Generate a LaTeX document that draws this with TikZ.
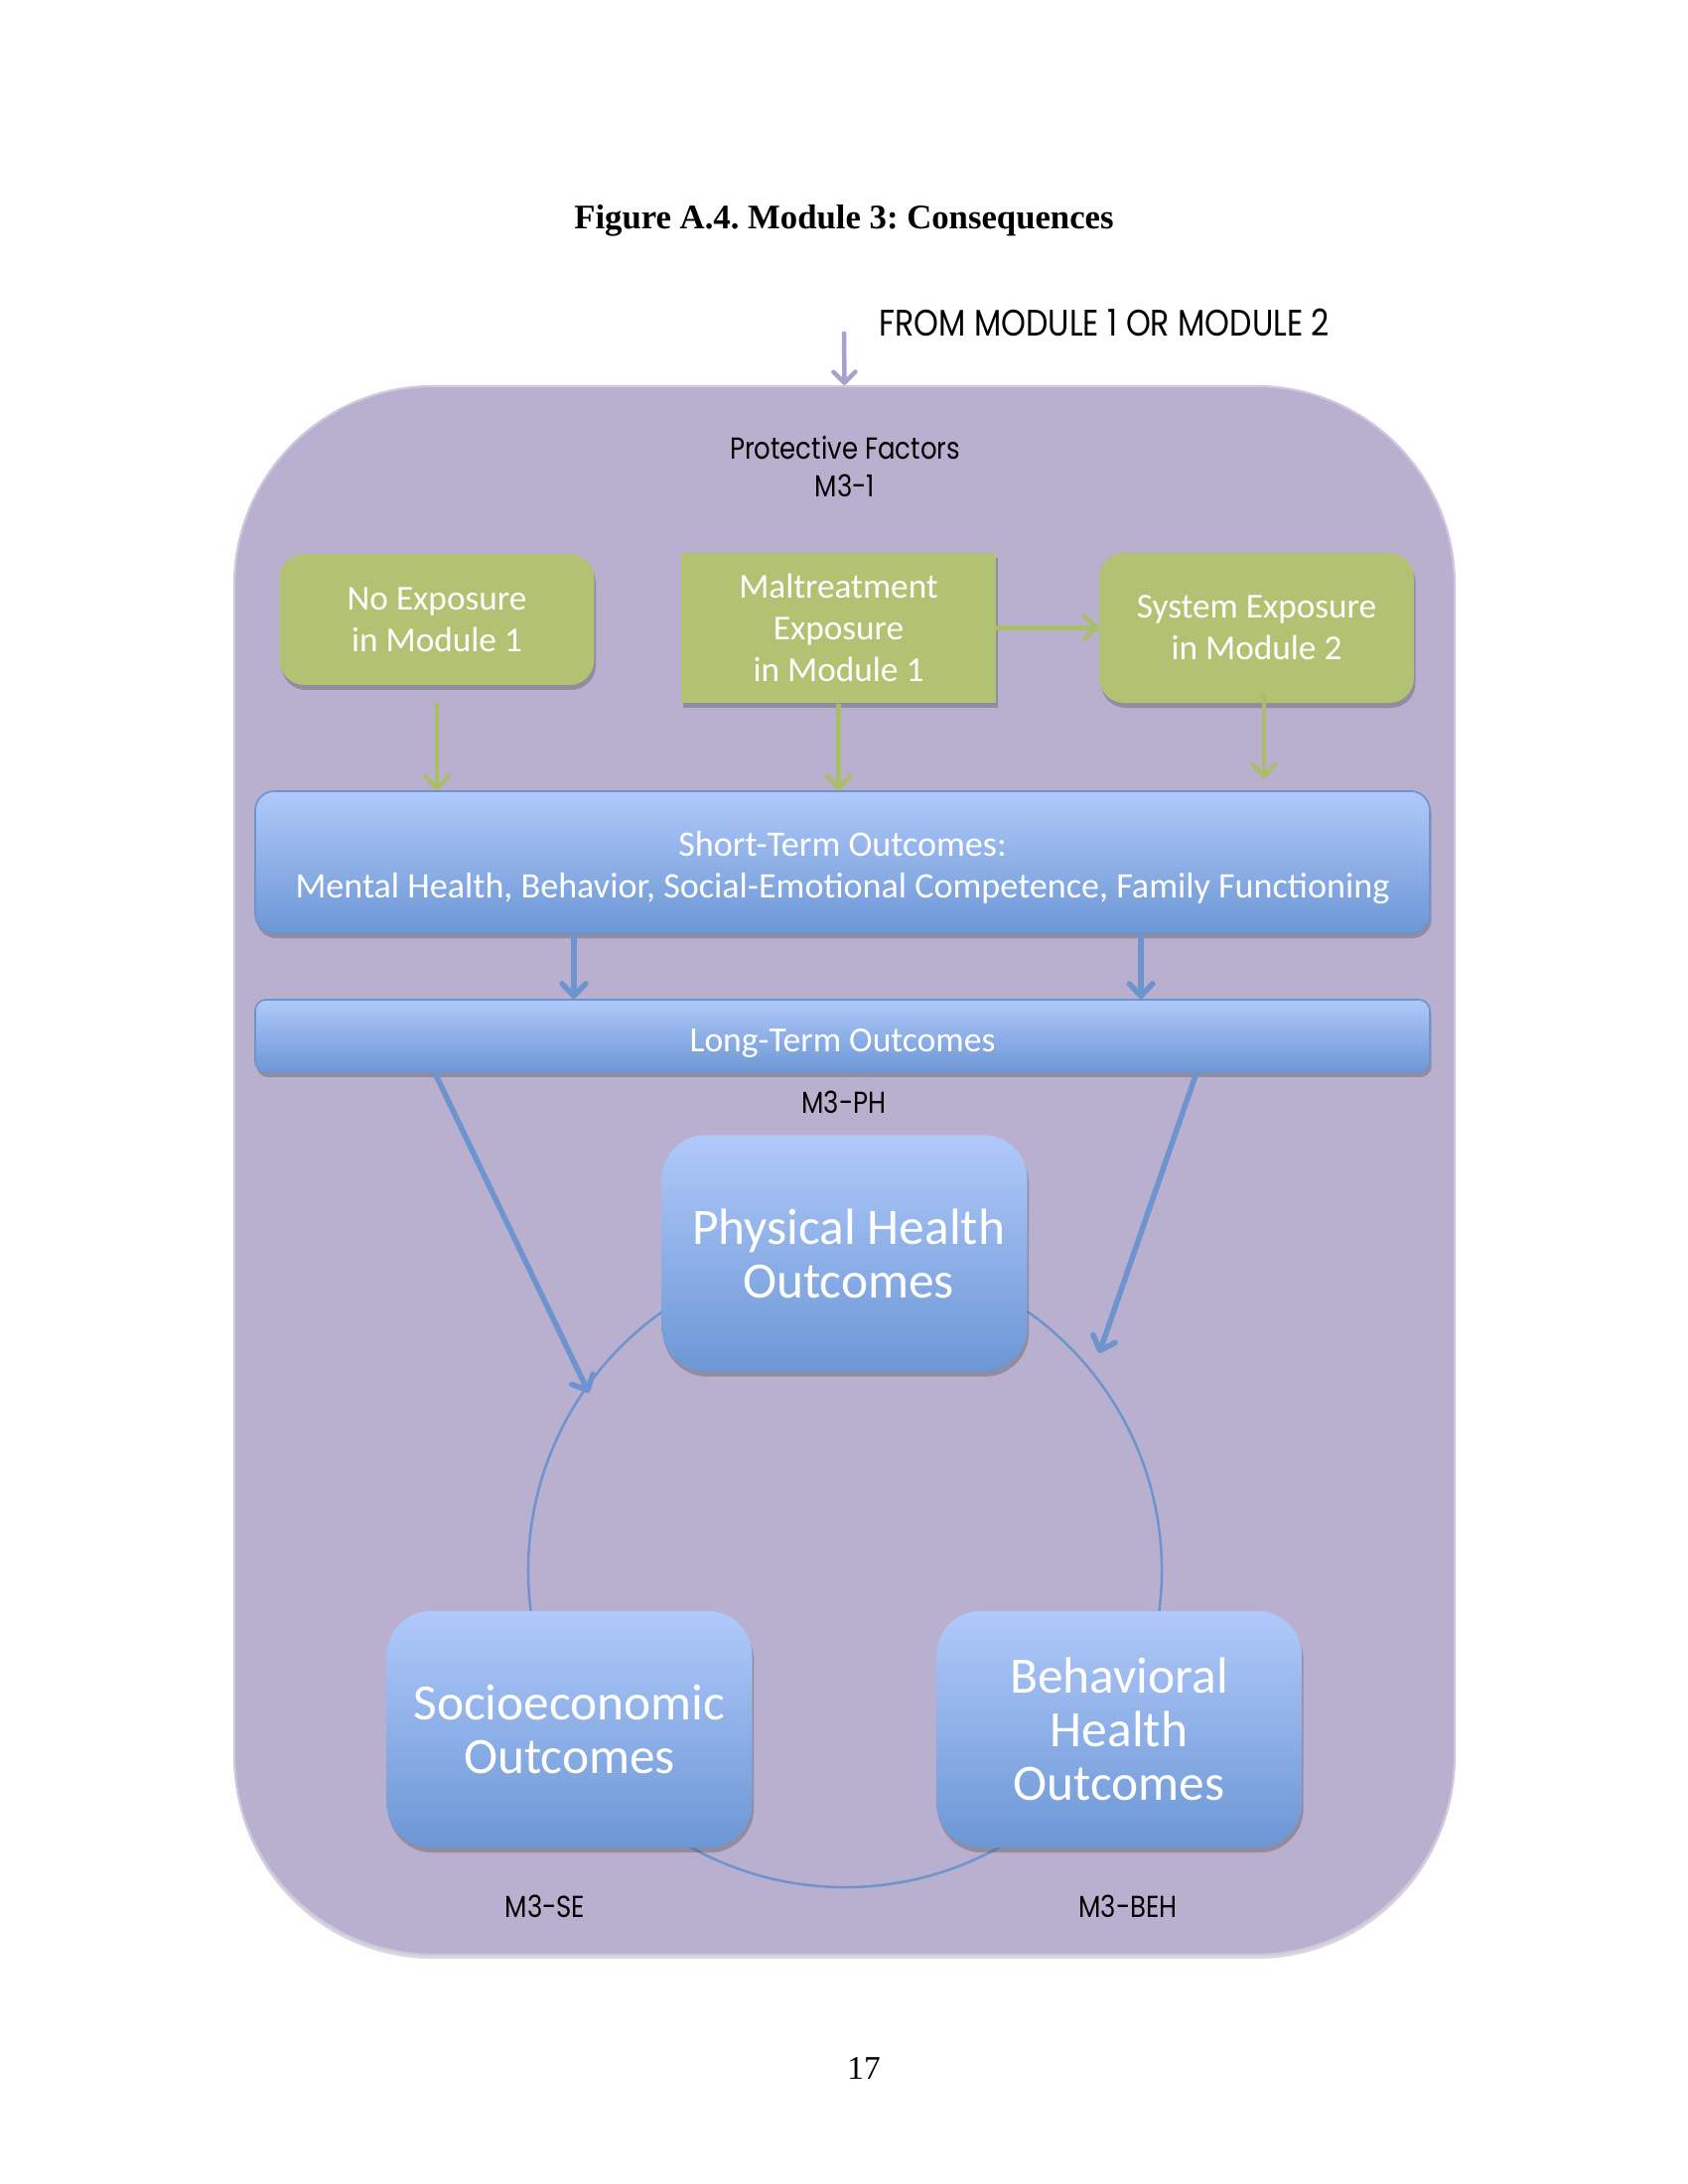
\documentclass[tikz,border=0pt]{standalone}
\usepackage{fontspec}
\setmainfont{Carlito}
\newfontfamily\labfont[FakeStretch=0.85]{Poppins}
\newfontfamily\pageserif{Liberation Serif}
\usetikzlibrary{arrows.meta,shadows,calc}
\frenchspacing
\definecolor{purp}{HTML}{B9AFCE}
\definecolor{purpedge}{HTML}{CFC8E0}
\definecolor{toparr}{HTML}{AAA0CD}
\definecolor{grn}{HTML}{B1C372}
\definecolor{grnarr}{HTML}{A9BE66}
\definecolor{btop}{HTML}{B0C9FA}
\definecolor{bbot}{HTML}{6C97D5}
\definecolor{bline}{HTML}{6E94D0}
\tikzset{
  shad/.style={drop shadow={shadow xshift=0.6pt,shadow yshift=-1.8pt,opacity=0.35,fill=black!70}},
  gbox/.style={shape=rectangle,fill=grn,text=white,align=center,inner sep=0pt,
    minimum width=114pt,font=\fontsize{12.7}{15}\selectfont,shad},
  bbox/.style={shape=rectangle,draw=bline,line width=0.6pt,top color=btop,bottom color=bbot,
    text=white,align=center,inner sep=0pt,minimum width=425.9pt,shad},
  bigbox/.style={shape=rectangle,top color=btop,bottom color=bbot,text=white,align=center,
    inner sep=0pt,minimum width=132.5pt,minimum height=85.8pt,rounded corners=16pt,
    font=\fontsize{18.5}{19.5}\selectfont,shad},
  lab/.style={font=\labfont\fontsize{11}{14}\selectfont,text=black,align=center,inner sep=0pt},
  garrow/.style={draw=grnarr,line width=1.5pt,-{Straight Barb[length=4.5pt,width=8.5pt,round]}},
  barrow/.style={draw=bline,line width=2pt,-{Straight Barb[length=4.5pt,width=8.5pt,round]}},
}
\begin{document}
\begin{tikzpicture}[x=0.36pt,y=-0.36pt]
\useasboundingbox (0,0) rectangle (1700,2200);
\fill[white] (0,0) rectangle (1700,2200);

% title and page number
\node[font=\pageserif\bfseries\fontsize{12.5}{15}\selectfont,inner sep=0pt] (title) at (850,222) {Figure A.4. Module 3: Consequences};
\node[font=\pageserif\fontsize{12}{14}\selectfont,inner sep=0pt] (pnum) at (870,2083) {17};

% outer container
\node[shape=rectangle,fill=purp,draw=purpedge,line width=0.8pt,rounded corners=72pt,
  minimum width=442.4pt,minimum height=568.8pt,inner sep=0pt,
  drop shadow={shadow xshift=0pt,shadow yshift=-1.5pt,opacity=0.25,fill=black!60}] (outer) at (850.5,1179) {};

% incoming arrow
\coordinate (from) at (850,334);
\draw[draw=toparr,line width=1.6pt,-{Straight Barb[length=4pt,width=8pt,round]}] (from) -- (outer.north);
\node[lab,anchor=west,font=\labfont\fontsize{13.4}{15}\selectfont] (fromlab) at (885,325) {FROM MODULE 1 OR MODULE 2};

\node[lab] (prot) at (851,470) {Protective Factors\\M3-1};

% exposure boxes
\node[gbox,rounded corners=9pt,minimum height=47.5pt] (noexp) at (440,624) {No Exposure\\in Module 1};
\node[gbox,minimum height=54.4pt] (malt) at (844.5,632.5) {Maltreatment\\Exposure\\in Module 1};
\node[gbox,rounded corners=9pt,minimum height=54.4pt] (sys) at (1265.5,632.5) {System Exposure\\in Module 2};

% outcomes bars
\node[bbox,minimum height=51.5pt,rounded corners=7pt,font=\fontsize{13}{14.8}\selectfont] (short) at (848.5,868.5)
  {\rule{0pt}{13pt}Short-Term Outcomes:\\Mental Health, Behavior, Social-Emotional Competence, Family Functioning};
\node[bbox,minimum height=26.3pt,rounded corners=4pt,font=\fontsize{12.8}{14}\selectfont] (long) at (848.5,1043.5) {\rule{0pt}{14pt}Long-Term Outcomes};

% green arrows
\draw[garrow] (malt.east) -- (sys.west);
\draw[garrow,shorten <=6pt] (noexp.south) -- (noexp.south |- short.north);
\draw[garrow] (malt.south) -- (malt.south |- short.north);
\draw[garrow,shorten <=-4pt,shorten >=4.3pt] ([xshift=2.7pt]sys.south) -- ([xshift=2.7pt]sys.south |- short.north);

% short -> long
\draw[barrow] ([xshift=-97.4pt]short.south) -- ([xshift=-97.4pt]short.south |- long.north);
\draw[barrow] ([xshift=108.2pt]short.south) -- ([xshift=108.2pt]short.south |- long.north);

\node[lab] (mph) at (850,1110) {M3-PH};

% cycle
\node[circle,draw=bline,line width=0.9pt,minimum size=229.7pt,inner sep=0pt] (cyc) at (851,1582) {};

% long -> cycle
\coordinate (cl) at (593,1403);
\coordinate (cr) at (1107,1363);
\draw[barrow] ([xshift=-147.8pt]long.south) -- (cl);
\draw[barrow] ([xshift=128.3pt]long.south) -- (cr);

% outcome boxes
\node[bigbox] (phys) at (850.5,1262.5) {\hspace*{3pt}Physical Health\\\hspace*{3pt}Outcomes};
\node[bigbox] (socio) at (573.5,1742) {Socioeconomic\\Outcomes};
\node[bigbox] (beh) at (1127,1742) {Behavioral\\Health\\Outcomes};

\node[lab] (mse) at (549,1920) {M3-SE};
\node[lab] (mbeh) at (1136,1920) {M3-BEH};
\end{tikzpicture}
\end{document}
